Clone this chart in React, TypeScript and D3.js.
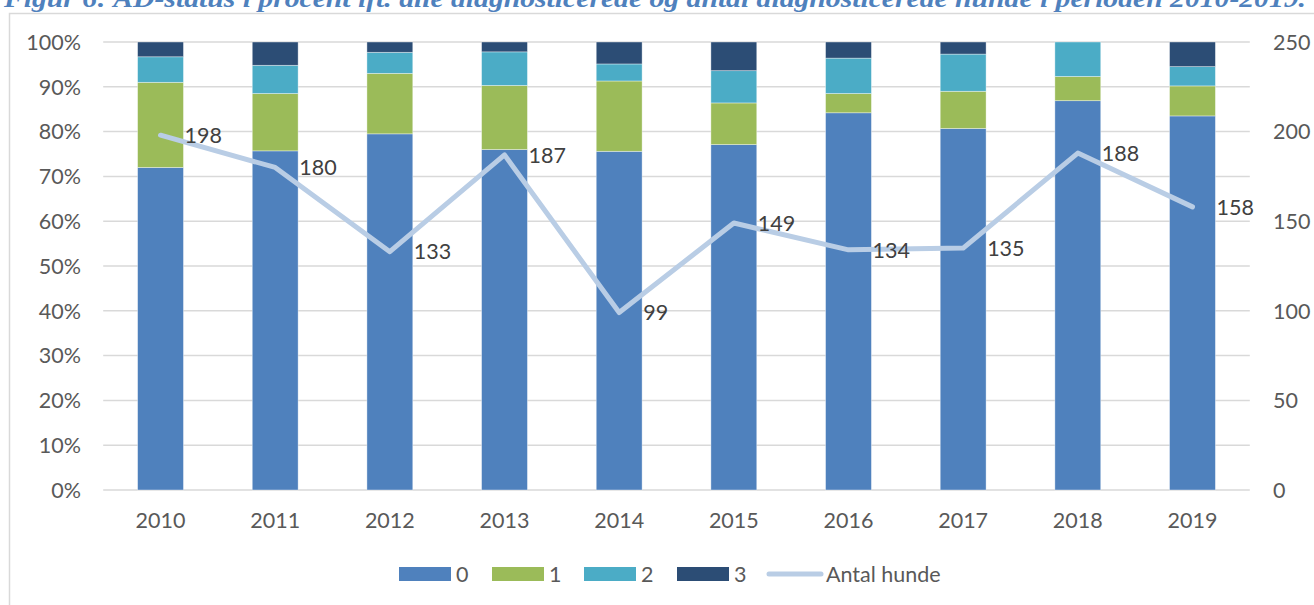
import React from "react";
import * as d3 from "d3";

const years = ["2010", "2011", "2012", "2013", "2014", "2015", "2016", "2017", "2018", "2019"];
const status0 = [72.0, 75.7, 79.5, 76.0, 75.6, 77.1, 84.2, 80.7, 86.9, 83.5];
const status1 = [19.0, 12.8, 13.5, 14.3, 15.7, 9.3, 4.3, 8.3, 5.4, 6.7];
const status2 = [5.7, 6.3, 4.7, 7.5, 3.8, 7.2, 7.9, 8.3, 7.7, 4.3];
const status3 = [3.3, 5.2, 2.3, 2.2, 4.9, 6.4, 3.6, 2.7, 0, 5.5];
const antalHunde = [198, 180, 133, 187, 99, 149, 134, 135, 188, 158];
const seriesNames = ["0", "1", "2", "3"];
const seriesColors = ["#4F81BD", "#9BBB59", "#4BACC6", "#2C4D75"];
const leftTicks = [0, 10, 20, 30, 40, 50, 60, 70, 80, 90, 100];
const rightTicks = [0, 50, 100, 150, 200, 250];
const lineName = "Antal hunde";
const title = "Figur 6: AD-status i procent ift. alle diagnosticerede og antal diagnosticerede hunde i perioden 2010-2019.";

const FONT = "Lato, 'Open Sans', sans-serif";
const TXT = "#595959";

export default function App() {
  const W = 1314, H = 605;
  const left = 103.2, right = 1249.8, top = 42, bottom = 490;
  const x = d3.scaleBand().domain(years).range([left, right]).paddingInner(0.6).paddingOuter(0.3);
  const yL = d3.scaleLinear().domain([0, 100]).range([bottom, top]);
  const yR = d3.scaleLinear().domain([0, 250]).range([bottom, top]);
  const series = [status0, status1, status2, status3];
  const rows = years.map((y, i) => ({ year: y, s0: status0[i], s1: status1[i], s2: status2[i], s3: status3[i] }));
  const stacked = d3.stack<any>().keys(["s0", "s1", "s2", "s3"])(rows);
  const cx = (y: string) => (x(y) as number) + x.bandwidth() / 2;
  const line = d3.line<number>().x((_, i) => cx(years[i])).y((d) => yR(d));

  const legendItems = [
    { x: 399, label: seriesNames[0], color: seriesColors[0] },
    { x: 492, label: seriesNames[1], color: seriesColors[1] },
    { x: 584, label: seriesNames[2], color: seriesColors[2] },
    { x: 677, label: seriesNames[3], color: seriesColors[3] },
  ];

  return (
    <svg width={W} height={H} style={{ position: "absolute", left: 0, top: 0, background: "#fff" }}>
      <rect x={9.5} y={13.5} width={1400} height={700} fill="#fff" stroke="#D9D9D9" strokeWidth={1.5} />
      <text x={4} y={7} fill="#4F81BD" fontFamily="'Liberation Serif', 'Times New Roman', serif" fontWeight="bold" fontStyle="italic" fontSize={25} textLength={1302} lengthAdjust="spacingAndGlyphs">{title}</text>
      {leftTicks.map((t) => (
        <g key={"g" + t}>
          <line x1={left} x2={right} y1={yL(t)} y2={yL(t)} stroke="#D9D9D9" strokeWidth={1.5} />
          <text x={81} y={yL(t)} dy="0.36em" textAnchor="end" fontFamily={FONT} fontSize={21.5} fill={TXT}>{t}%</text>
        </g>
      ))}
      {rightTicks.map((t) => (
        <text key={"r" + t} x={1273} y={yR(t)} dy="0.36em" textAnchor="start" fontFamily={FONT} fontSize={21.5} fill={TXT}>{t}</text>
      ))}
      {stacked.map((s, si) => (
        <g key={"s" + si} fill={seriesColors[si]}>
          {s.map((d, i) => (d[1] - d[0] > 0 ? (
            <rect key={i} x={x(years[i])} y={yL(d[1])} width={x.bandwidth()} height={yL(d[0]) - yL(d[1])} stroke="#ffffff" strokeOpacity={0.5} strokeWidth={0.75} />
          ) : null))}
        </g>
      ))}
      {years.map((y) => (
        <text key={"x" + y} x={cx(y)} y={528} textAnchor="middle" fontFamily={FONT} fontSize={21.5} fill={TXT}>{y}</text>
      ))}
      <path d={line(antalHunde) || ""} fill="none" stroke="#B9CDE5" strokeWidth={5} strokeLinejoin="round" strokeLinecap="round" />
      {antalHunde.map((v, i) => (
        <text key={"l" + i} x={cx(years[i]) + 24} y={yR(v)} dy="0.36em" fontFamily={FONT} fontSize={21.5} fill="#404040">{v}</text>
      ))}
      {legendItems.map((it) => (
        <g key={"lg" + it.label}>
          <rect x={it.x} y={567} width={52} height={14} fill={it.color} />
          <text x={it.x + 57} y={574} dy="0.36em" fontFamily={FONT} fontSize={21.5} fill={TXT}>{it.label}</text>
        </g>
      ))}
      <line x1={769} x2={821} y1={574} y2={574} stroke="#B9CDE5" strokeWidth={5} strokeLinecap="round" />
      <text x={826} y={574} dy="0.36em" fontFamily={FONT} fontSize={21.5} fill={TXT}>{lineName}</text>
    </svg>
  );
}
